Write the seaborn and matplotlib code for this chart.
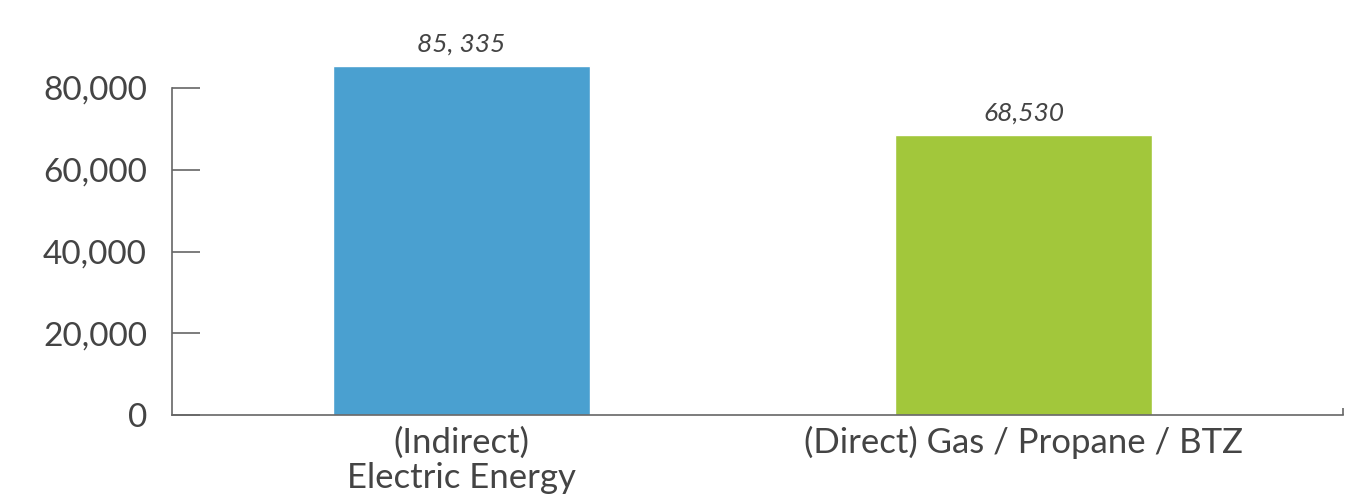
import pandas as pd
import numpy as np
import seaborn as sns
import matplotlib.pyplot as plt
from matplotlib.ticker import FuncFormatter

categories = ['(Indirect)\nElectric Energy', '(Direct) Gas / Propane / BTZ']
values = [85335, 68530]
value_labels = ['85, 335', '68,530']
yticks = [0, 20000, 40000, 60000, 80000]

COLORS = ['#4aa0d0', '#a2c73b']
AXIS_GRAY = '#666666'
TEXT_GRAY = '#444444'

sns.set_style('white')
plt.rcParams['font.family'] = ['Lato', 'DejaVu Sans']

df = pd.DataFrame({'category': categories, 'value': values})

fig = plt.figure(figsize=(13.57, 4.99), dpi=100)
ax = fig.add_axes([0.1267, 0.1683, 0.863, 0.7373])

sns.barplot(data=df, x='category', y='value', hue='category', palette=COLORS,
            width=0.457, legend=False, ax=ax, saturation=1)

ax.set_ylim(0, 90000)
ax.set_xlim(-0.515, 1.568)
ax.set_xlabel('')
ax.set_ylabel('')

for i, v in enumerate(values):
    ax.text(i, v + 2600, value_labels[i], ha='center', va='bottom',
            fontsize=19, style='italic', color=TEXT_GRAY)

ax.set_yticks(yticks)
ax.yaxis.set_major_formatter(FuncFormatter(lambda v, p: f'{int(v):,}'))
ax.tick_params(axis='y', left=True, direction='in', length=20, width=1.2, color=AXIS_GRAY,
               labelsize=24, labelcolor=TEXT_GRAY, pad=18)
ax.tick_params(axis='x', length=0, labelsize=25, labelcolor=TEXT_GRAY, pad=8)
for label in ax.get_xticklabels():
    label.set_linespacing(1.15)
ax.set_xticks(ax.get_xlim()[1:], minor=True)
ax.tick_params(axis='x', which='minor', bottom=True, direction='in', length=5, width=1.2,
               color=AXIS_GRAY)

sns.despine(ax=ax)
ax.spines['left'].set_bounds(0, 80000)
for s in ['left', 'bottom']:
    ax.spines[s].set_color(AXIS_GRAY)
    ax.spines[s].set_linewidth(1.2)

plt.savefig('out.png', dpi=100)
plt.close()
